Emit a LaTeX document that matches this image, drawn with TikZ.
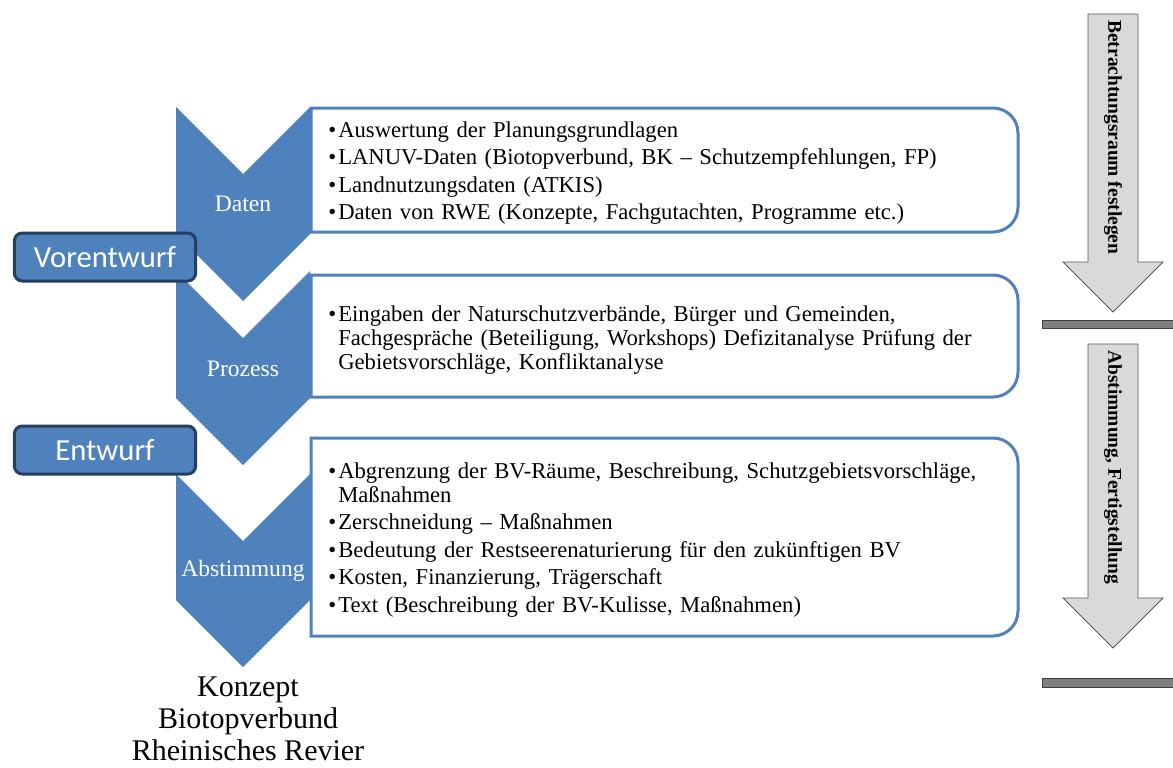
\documentclass[tikz,border=0pt]{standalone}
\usepackage{fontspec}
\setmainfont{Liberation Serif}
\newfontfamily\phasefont{Carlito}
\usetikzlibrary{positioning}

\definecolor{chevblue}{HTML}{4F81BD}
\definecolor{phaseedge}{HTML}{243F60}
\definecolor{railgray}{HTML}{D9D9D9}
\definecolor{railedge}{HTML}{595959}
\definecolor{bargray}{HTML}{7F7F7F}
\definecolor{baredge}{HTML}{404040}

\newcommand{\bitem}[1]{\par\noindent\hangindent=7.5pt\hangafter=1\makebox[7.5pt][l]{\textbullet}#1\par}

\begin{document}
\begin{tikzpicture}[
    x=0.75pt, y=-0.75pt,
    chev/.style={fill=chevblue, draw=none},
    chevlabel/.style={text=white, inner sep=0pt, font=\fontsize{17.7}{19}\selectfont},
    infobox/.style={draw=chevblue, line width=2.25pt, fill=white},
    bullets/.style={
        anchor=west, inner sep=0pt, text width=520pt, align=left,
        font=\fontsize{17}{18}\selectfont,
        execute at begin node={\setlength{\parskip}{2.6pt}}
    },
    phase/.style={
        rectangle, rounded corners=6pt, draw=phaseedge, line width=2.25pt,
        fill=chevblue, text=white, minimum width=136pt, minimum height=36pt,
        font=\phasefont\fontsize{23}{26}\selectfont
    },
    rail/.style={fill=railgray, draw=railedge, line width=0.6pt},
    railtext/.style={rotate=-90, anchor=west, inner sep=0pt,
        font=\bfseries\fontsize{14.6}{16}\selectfont},
    bar/.style={fill=bargray, draw=baredge, line width=0.6pt},
    closing/.style={align=center, inner sep=0pt,
        font=\fontsize{22.5}{24.2}\selectfont},
]
\useasboundingbox (0,0) rectangle (1173,767);

% Chevrons
\fill[chev] (176,107) -- (243,174) -- (310,107) -- (310,234) -- (243,301) -- (176,234) -- cycle;
\fill[chev] (176,271) -- (243,338) -- (310,271) -- (310,398) -- (243,465) -- (176,398) -- cycle;
\fill[chev] (176,474) -- (243,541) -- (310,474) -- (310,600) -- (243,667) -- (176,600) -- cycle;

\node[chevlabel] (daten) at (243,204) {Daten};
\node[chevlabel] (prozess) at (243,369) {Prozess};
\node[chevlabel] (abstimmung) at (243,571) {Abstimmung};

% Info boxes
\draw[infobox] (311,108) -- (993,108) arc[start angle=-90, end angle=0, radius=25]
    -- (1018,207) arc[start angle=0, end angle=90, radius=25] -- (311,232) -- cycle;
\draw[infobox] (311,275) -- (993,275) arc[start angle=-90, end angle=0, radius=25]
    -- (1018,372) arc[start angle=0, end angle=90, radius=25] -- (311,397) -- cycle;
\draw[infobox] (311,438) -- (993,438) arc[start angle=-90, end angle=0, radius=25]
    -- (1018,611) arc[start angle=0, end angle=90, radius=25] -- (311,636) -- cycle;

\node[bullets] (daten list) at (328,167) {%
    \bitem{Auswertung der Planungsgrundlagen}
    \bitem{LANUV-Daten (Biotopverbund, BK – Schutzempfehlungen, FP)}
    \bitem{Landnutzungsdaten (ATKIS)}
    \bitem{Daten von RWE (Konzepte, Fachgutachten, Programme etc.)}};

\node[bullets] (prozess list) at (328,334) {%
    \bitem{Eingaben der Naturschutzverbände, Bürger und Gemeinden,\newline
    Fachgespräche (Beteiligung, Workshops) Defizitanalyse Prüfung der\newline
    Gebietsvorschläge, Konfliktanalyse}};

\node[bullets] (abstimmung list) at (328,534) {%
    \bitem{Abgrenzung der BV-Räume, Beschreibung, Schutzgebietsvorschläge,\newline
    Maßnahmen}
    \bitem{Zerschneidung – Maßnahmen}
    \bitem{Bedeutung der Restseerenaturierung für den zukünftigen BV}
    \bitem{Kosten, Finanzierung, Trägerschaft}
    \bitem{Text (Beschreibung der BV-Kulisse, Maßnahmen)}};

% Phase labels
\node[phase] (vorentwurf) at (105,257) {Vorentwurf};
\node[phase] (entwurf) at (105,450) {Entwurf};

% Result
\node[closing] (konzept) at (248,719) {Konzept\\Biotopverbund\\Rheinisches Revier};

% Right-hand arrows
\draw[rail] (1088,14) -- (1138,14) -- (1138,262) -- (1163,262) -- (1113,312)
    -- (1063,262) -- (1088,262) -- cycle;
\draw[rail] (1088,344) -- (1138,344) -- (1138,598) -- (1163,598) -- (1113,648)
    -- (1063,598) -- (1088,598) -- cycle;
\node[railtext] (betrachtung) at (1113,20) {Betrachtungsraum festlegen};
\node[railtext] (fertig) at (1113,350) {Abstimmung, Fertigstellung};

\draw[bar] (1042,320) rectangle (1173,328);
\draw[bar] (1042,678) rectangle (1173,687);

\end{tikzpicture}
\end{document}
